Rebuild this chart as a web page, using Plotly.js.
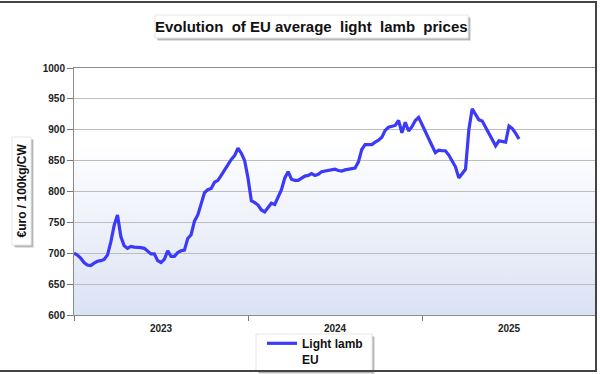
<!DOCTYPE html>
<html>
<head>
<meta charset="utf-8">
<script src="https://cdn.plot.ly/plotly-3.0.1.min.js"></script>
<style>
html,body{margin:0;padding:0;background:#fff;}
#wrap{position:relative;width:600px;height:374px;}
#chart{width:600px;height:374px;}
#frame{position:absolute;left:0;top:1px;width:597px;height:371px;border-top:2px solid #444;border-right:2px solid #444;border-bottom:2px solid #444;box-sizing:border-box;pointer-events:none;}
</style>
</head>
<body>
<div id="wrap"><div id="chart"></div><div id="frame"></div></div>
<script>
// Weekly EU average light lamb price, €/100kg carcass weight, from week 1 of 2023
const yearLabels = ['2023', '2024', '2025'];
const yearCenters = [26, 78, 130];
const yearBounds = [0, 52, 104, 156];
const yTicks = [600, 650, 700, 750, 800, 850, 900, 950, 1000];
const seriesName = 'Light lamb<br>EU';
const prices = [
  700, 697, 692, 685, 681, 680, 684, 687, 688, 690,
  697, 718, 745, 762, 727, 712, 708, 711, 710, 710,
  709, 708, 703, 699, 699, 688, 685, 690, 704, 695,
  695, 701, 704, 705, 724, 730, 752, 762, 780, 798,
  803, 805, 815, 818, 826, 835, 845, 852, 858, 870,
  862, 850, 822, 785, 782, 778, 770, 767, 774, 781,
  779, 790, 803, 822, 832, 820, 818, 818, 822, 825,
  826, 829, 826, 828, 832, 833, 833, 835, 836, 834,
  833, 835, 836, 836, 838, 848, 868, 876, 876, 876,
  880, 883, 888, 899, 904, 906, 907, 915, 895, 912,
  898, 905, 915, 920, 908, 895, 884, 874, 863, 867,
  866, 866, 859, 849, 840, 822, 830, 836, 900, 934,
  925, 916, 914, 904, 895, 884, 874, 882, 881, 880,
  906, 902, 894, 885
];
const weeks = prices.map((_, i) => i);

// pixel -> paper helpers for decorations
const L = 74, R = 4, T = 68, B = 59, W = 600, H = 374;
const pw = W - L - R, ph = H - T - B;
const px = x => (x - L) / pw;
const py = y => (H - B - y) / ph;

const gradSvg = 'data:image/svg+xml;utf8,' + encodeURIComponent(
  '<svg xmlns="http://www.w3.org/2000/svg" width="100" height="100" preserveAspectRatio="none">' +
  '<defs><linearGradient id="g" x1="0" y1="0" x2="0" y2="1">' +
  '<stop offset="0" stop-color="#ffffff"/><stop offset="0.3" stop-color="#ffffff"/>' +
  '<stop offset="1" stop-color="#dbe2f4"/></linearGradient></defs>' +
  '<rect width="100" height="100" fill="url(#g)"/></svg>');

function box(x0, y0, x1, y1) {
  return [
    {type:'rect', xref:'paper', yref:'paper', x0:px(x0+3), x1:px(x1+3), y0:py(y1+3), y1:py(y0+3), fillcolor:'rgba(0,0,0,0.12)', line:{width:0}, layer:'above'},
    {type:'rect', xref:'paper', yref:'paper', x0:px(x0+2), x1:px(x1+2), y0:py(y1+2), y1:py(y0+2), fillcolor:'rgba(0,0,0,0.18)', line:{width:0}, layer:'above'},
    {type:'rect', xref:'paper', yref:'paper', x0:px(x0), x1:px(x1), y0:py(y1), y1:py(y0), fillcolor:'#ffffff', line:{width:1, color:'#e6e6e6'}, layer:'above'}
  ];
}

const font = {family:'Liberation Sans, Arial, sans-serif', color:'#111'};

const data = [{
  x: weeks, y: prices, type:'scatter', mode:'lines', name: seriesName,
  line:{color:'#3a3af8', width:3.2}
}];

const layout = {
  width: W, height: H,
  margin:{l:L, r:R, t:T, b:B, pad:0, autoexpand:false},
  paper_bgcolor:'rgba(0,0,0,0)', plot_bgcolor:'rgba(0,0,0,0)',
  font: font,
  showlegend: true,
  legend:{x:px(262), y:py(329), xanchor:'left', yanchor:'top', bgcolor:'rgba(255,255,255,0)',
    borderwidth:0, font:{family:font.family, size:12, color:'#111', weight:'bold'}, valign:'top',
    itemwidth:30, tracegroupgap:0},
  xaxis:{range:[0,156], tickmode:'array', tickvals:yearCenters, ticktext:yearLabels, ticks:'',
    showgrid:false, zeroline:false, showline:true, linecolor:'#8c8c8c', linewidth:1, mirror:true,
    tickfont:{size:10, weight:'bold', color:'#222'}, ticklabelstandoff:4, automargin:false,
    minor:{tickmode:'array', tickvals:yearBounds, ticks:'outside', ticklen:5, tickcolor:'#777', showgrid:false}},
  yaxis:{range:[600,1000], tickmode:'array', tickvals:yTicks, ticks:'outside', ticklen:6, tickcolor:'#777',
    showgrid:true, gridcolor:'#bdbdbd', gridwidth:1, zeroline:false, showline:true, linecolor:'#8c8c8c',
    mirror:true, tickfont:{size:10, weight:'bold', color:'#222'}, automargin:false},
  images:[{source:gradSvg, xref:'paper', yref:'paper', x:0, y:1, sizex:1, sizey:1,
    xanchor:'left', yanchor:'top', sizing:'stretch', layer:'below'}],
  shapes:[].concat(box(155,15,468,38), box(12,137,31,245), box(256,334,372,371)),
  annotations:[
    {text:'<b>Evolution  of EU average  light  lamb  prices</b>', xref:'paper', yref:'paper',
      x:px(311), y:py(26.5), xanchor:'center', yanchor:'middle', showarrow:false,
      font:{family:font.family, size:15, color:'#111'}},
    {text:'<b>€uro / 100kg/CW</b>', xref:'paper', yref:'paper', x:px(21.5), y:py(191),
      xanchor:'center', yanchor:'middle', textangle:-90, showarrow:false,
      font:{family:font.family, size:12, color:'#111'}}
  ]
};

Plotly.newPlot('chart', data, layout, {displayModeBar:false, staticPlot:true});
</script>
</body>
</html>
